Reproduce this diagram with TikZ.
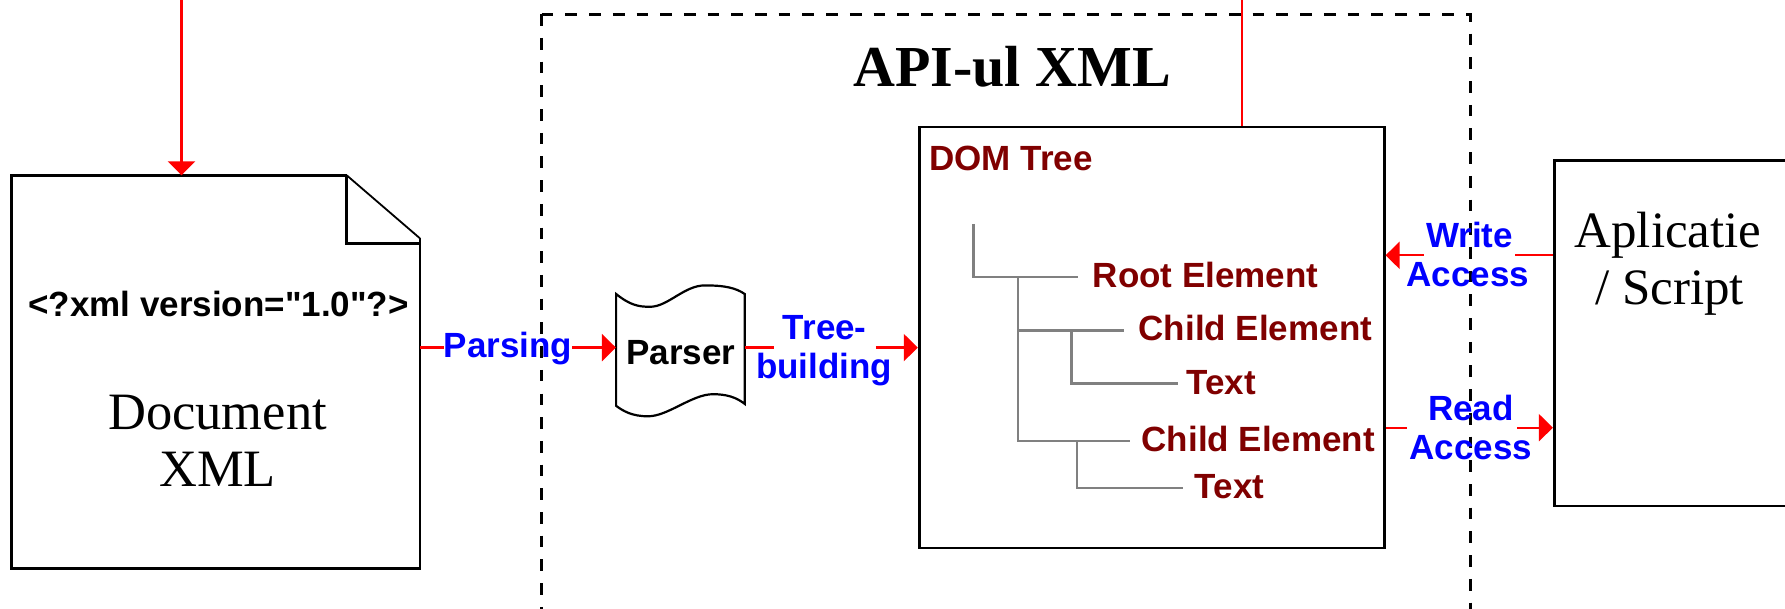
\documentclass[tikz,border=0pt]{standalone}
\usepackage{fontspec}
\setmainfont{Liberation Serif}
\newfontfamily\pixfont{Liberation Sans}
\usetikzlibrary{arrows.meta}
\definecolor{dred}{HTML}{800000}
\definecolor{pblue}{HTML}{0000FF}
\definecolor{pred}{HTML}{FF0000}
\definecolor{tgray}{HTML}{808080}
\begin{document}
\begin{tikzpicture}[x=1pt,y=-1pt,
  box/.style={draw=black,line width=2.8pt},
  ghost/.style={draw=none,inner sep=0pt},
  redline/.style={draw=pred,line width=2.3pt},
  redarrow/.style={redline,-{Triangle[length=14pt,width=27pt]}},
  pixtext/.style={font=\pixfont\bfseries\fontsize{35}{39}\selectfont,inner sep=0pt,anchor=base},
  bluelbl/.style={pixtext,text=pblue},
  treelbl/.style={pixtext,text=dred,anchor=base west,text height=21pt,text depth=0pt},
  tree/.style={draw=tgray,line width=2.6pt},
  bigserif/.style={font=\fontsize{51}{57}\selectfont,inner sep=0pt,anchor=base},
  dashbox/.style={draw=black,line width=3pt,dash pattern=on 11.7pt off 12pt}
]
\path[use as bounding box,clip] (0,0) rectangle (1785,609);
\fill[white] (0,0) rectangle (1785,609);
% dashed API frame
\draw[dashbox] (541.7,14.3) -- (541.7,640);
\draw[dashbox] (541.7,14.3) -- (1470.3,14.3) -- (1470.3,640);
\node[inner sep=0pt,anchor=base,font=\bfseries\fontsize{58}{64}\selectfont] (title) at (1012,86.2) {API-ul XML};
% document
\node[ghost,minimum width=408.8pt,minimum height=392.7pt] (doc) at (215.5,371.85) {};
\draw[box] (346.7,175.3) -- (11.1,175.3) -- (11.1,568.2) -- (419.9,568.2) -- (419.9,238.3);
\draw[black,line width=1.8pt] (346.7,175.3) -- (419.9,238.3);
\draw[box] (346.7,175.3) -- (346.7,243.3) -- (419.9,243.3);
\node[pixtext] (xmldecl) at (218.5,316.5) {<?xml version="1.0"?>};
\node[bigserif,font=\fontsize{52.5}{57}\selectfont] (docl1) at (217.5,429.1) {Document};
\node[bigserif,font=\fontsize{52.5}{57}\selectfont] (docl2) at (217.5,486.2) {XML};
\coordinate (inA) at (181.5,0);
\draw[redarrow] (inA) -- (inA |- doc.north);
% parser
\node[ghost,minimum width=128.6pt,minimum height=100pt] (parser) at (680.4,350) {};
\draw[black,line width=2.2pt] (616.1,294) .. controls (630,305) and (638,306.8) .. (650,306.8)
  .. controls (668,306.8) and (684,285.4) .. (705,285.4)
  .. controls (725,285.4) and (736,288) .. (744.7,294) -- (744.7,403.9)
  .. controls (736,397) and (726,394.2) .. (713,394.2)
  .. controls (692,394.2) and (668,416.3) .. (648,416.3)
  .. controls (632,416.3) and (623,411) .. (616.1,405.8) -- cycle;
\node[pixtext] (parsertxt) at (680.7,365) {Parser};
% DOM tree box
\coordinate (inB) at (1241.8,0);
\node[box,minimum width=465pt,minimum height=421pt,inner sep=0pt] (dom) at (1151.7,337.5) {};
\draw[redline] (inB) -- (inB |- dom.north);
\node[treelbl] (domtitle) at (929,170.9) {DOM Tree};
\node[treelbl] (root) at (1092.6,287.4) {Root Element};
\node[treelbl] (child1) at (1138.5,341) {Child Element};
\node[treelbl] (text1) at (1186.1,394.2) {Text};
\node[treelbl] (child2) at (1141.4,451.3) {Child Element};
\node[treelbl] (text2) at (1194.7,498.3) {Text};
\coordinate (t0) at (973.2,224);
\coordinate (t1) at (1018,0);
\coordinate (t2) at (1071.3,0);
\coordinate (t3) at (1077,0);
\draw[tree] (t0) |- ([xshift=-14.6pt]root.west);
\draw[tree] (t1 |- root.west) |- ([xshift=-11.5pt]child2.west);
\draw[tree] (t1 |- child1.west) -- ([xshift=-14.5pt]child1.west);
\draw[tree] (t2 |- child1.west) |- ([xshift=-8.6pt]text1.west);
\draw[tree] (t3 |- child2.west) |- ([xshift=-12pt]text2.west);
% application box
\node[box,minimum width=245.7pt,minimum height=345.3pt,inner sep=0pt] (app) at (1677.15,333.35) {};
\node[bigserif] (app1) at (1668,247.3) {Aplicatie};
\node[bigserif] (app2) at (1669.5,305) {/ Script};
% labels
\node[bluelbl] (lpars) at (508.1,357.3) {Parsing};
\node[bluelbl,inner xsep=9pt] (tb1) at (824.8,339.8) {Tree-};
\node[bluelbl] (tb2) at (824.2,378.6) {building};
\node[bluelbl,inner xsep=2pt] (wr1) at (1469.5,247.3) {Write};
\node[bluelbl] (wr2) at (1468,286.7) {Access};
\node[bluelbl,inner xsep=3pt] (rd1) at (1471,420) {Read};
\node[bluelbl] (rd2) at (1471,459.3) {Access};
% connectors
\coordinate (yP) at (0,347.6);
\coordinate (yW) at (0,255.3);
\coordinate (yR) at (0,427.7);
\draw[redline] (doc.east |- yP) -- (lpars.west |- yP);
\draw[redarrow] (lpars.east |- yP) -- (parser.west |- yP);
\draw[redline] (parser.east |- yP) -- (tb1.west |- yP);
\draw[redarrow] (tb1.east |- yP) -- (dom.west |- yP);
\draw[redline] (app.west |- yW) -- (wr1.east |- yW);
\draw[redarrow] (wr1.west |- yW) -- (dom.east |- yW);
\draw[redline] (dom.east |- yR) -- ([xshift=-18pt]rd1.west |- yR);
\draw[redarrow] (rd1.east |- yR) -- (app.west |- yR);
\end{tikzpicture}
\end{document}
